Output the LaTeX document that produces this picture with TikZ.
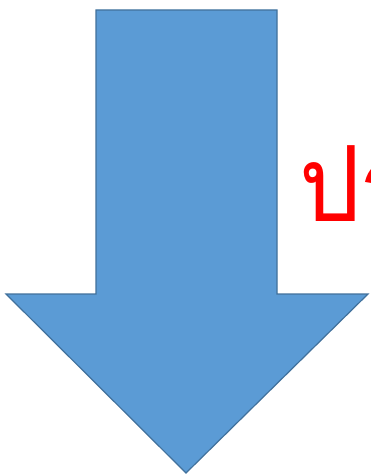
\documentclass[tikz,border=0pt]{standalone}
\usepackage{fontspec}
\newfontfamily\thaifont[Script=Thai]{Loma}
\usepackage{tikz}
\definecolor{arrowfill}{HTML}{5B9BD5}
\definecolor{arrowline}{HTML}{41719C}

\begin{document}
\begin{tikzpicture}[x=1pt, y=-1pt, every node/.style={font=\thaifont}]
	\clip (0,0) rectangle (370,476);
	\useasboundingbox (0,0) rectangle (370,476);
	\fill[white] (0,0) rectangle (370,476);
	\draw[arrowline, fill=arrowfill, line width=1.2pt, line join=miter] (96,10) -- (277,10) -- (277,294) -- (368,294) -- (186,473) -- (6,294) -- (96,294) -- cycle;
	\node[red, anchor=base west, inner sep=0pt, xscale=0.92, font=\thaifont\fontsize{105}{120}\selectfont] (word) at (299,221) {ปร};
\end{tikzpicture}
\end{document}
